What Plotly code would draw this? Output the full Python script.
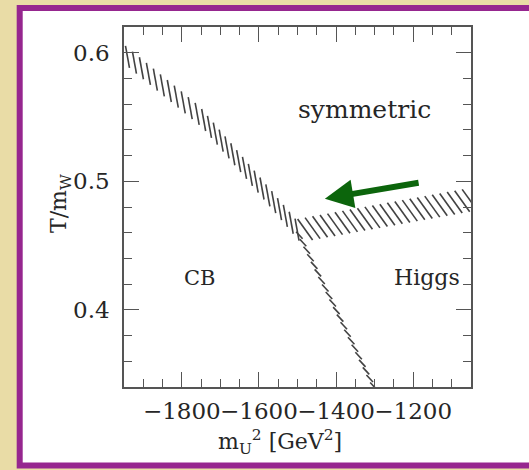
import numpy as np
import plotly.graph_objects as go

# Axis extents
x_range = [-1950, -1050]
y_range = [0.34, 0.62]

# Phase boundaries: centre lines of the hatched bands
cb_sym_x = [-1950, -1750, -1500]
cb_sym_y = [0.599, 0.550, 0.462]
cb_higgs_x = [-1500, -1292]
cb_higgs_y = [0.461, 0.334]
higgs_sym_x = [-1490, -1045]
higgs_sym_y = [0.462, 0.486]

# Arrow (tail -> head)
arrow_x = [-1182, -1429]
arrow_y = [0.499, 0.4865]

# Region labels
region_text = ["symmetric", "CB", "Higgs"]
region_x = [-1325, -1753, -1164]
region_y = [0.556, 0.425, 0.425]

W, H = 529, 470
margin = dict(l=124, r=58, t=27, b=83)
plot_w = W - margin["l"] - margin["r"]
plot_h = H - margin["t"] - margin["b"]
sx = plot_w / (x_range[1] - x_range[0])
sy = plot_h / (y_range[1] - y_range[0])


def hatch(xs, ys, step, stroke):
    """Short strokes placed every `step` screen px along a polyline."""
    X = np.asarray(xs, float) * sx
    Y = -np.asarray(ys, float) * sy
    seg = np.hypot(np.diff(X), np.diff(Y))
    cum = np.concatenate([[0], np.cumsum(seg)])
    s = np.arange(step / 2, cum[-1], step)
    cx = np.interp(s, cum, X)
    cy = np.interp(s, cum, Y)
    dx, dy = stroke
    hx, hy = [], []
    for a, b in zip(cx, cy):
        hx += [float((a - dx / 2) / sx), float((a + dx / 2) / sx), None]
        hy += [float(-(b - dy / 2) / sy), float(-(b + dy / 2) / sy), None]
    return hx, hy


fig = go.Figure()
line_style = dict(color="#424242", width=1.6, simplify=False)
for xs, ys, step, stroke in [
    (cb_sym_x, cb_sym_y, 9.0, (4, 22)),
    (cb_higgs_x, cb_higgs_y, 8.4, (6.5, 7)),
    (higgs_sym_x, higgs_sym_y, 7.6, (15, 21)),
]:
    hx, hy = hatch(xs, ys, step, stroke)
    fig.add_trace(go.Scatter(x=hx, y=hy, mode="lines", line=line_style,
                             connectgaps=False, hoverinfo="skip", showlegend=False))

fig.add_annotation(x=arrow_x[1], y=arrow_y[1], ax=arrow_x[0], ay=arrow_y[0],
                   xref="x", yref="y", axref="x", ayref="y", text="",
                   showarrow=True, arrowhead=2, arrowsize=0.95, arrowwidth=6,
                   arrowcolor="#0c650c")

serif = "DejaVu Serif"
for t, x, y, fs in zip(region_text, region_x, region_y, [25, 21, 22]):
    fig.add_annotation(x=x, y=y, xref="x", yref="y", text=t, showarrow=False,
                       font=dict(family=serif, size=fs, color="#262626"))


def px_x(p):
    return (p - margin["l"]) / plot_w


def px_y(p):
    return (H - margin["b"] - p) / plot_h


# Axis titles
fig.add_annotation(x=px_x(280), y=px_y(442), xref="paper", yref="paper",
                   xanchor="center", yanchor="middle",
                   text="m<sub>U</sub><sup>2</sup> [GeV<sup>2</sup>]", showarrow=False,
                   font=dict(family=serif, size=22, color="#262626"))
fig.add_annotation(x=px_x(60), y=px_y(204), xref="paper", yref="paper",
                   xanchor="center", yanchor="middle", text="T/m<sub>W</sub>",
                   textangle=-90, showarrow=False,
                   font=dict(family=serif, size=22, color="#262626"))

# Slide frame: beige page, purple border, white panel
fig.add_shape(type="rect", xref="paper", yref="paper", layer="below",
              x0=px_x(19.7), x1=px_x(540), y0=px_y(8), y1=px_y(465.5),
              line=dict(color="#96268f", width=6), fillcolor="white")

axis_common = dict(showgrid=False, zeroline=False, showline=True, linecolor="#555",
                   linewidth=1.5, mirror="allticks", ticks="inside", ticklen=15,
                   tickwidth=1.4, tickcolor="#555", tickangle=0,
                   tickfont=dict(family=serif, size=23, color="#262626"))

fig.update_xaxes(range=x_range, tickmode="linear", tick0=-1800, dtick=200,
                 ticklabelstandoff=3,
                 minor=dict(dtick=50, tick0=-1800, ticks="inside", ticklen=8,
                            tickwidth=1.4, tickcolor="#555"),
                 **axis_common)
fig.update_yaxes(range=y_range, tickmode="linear", tick0=0.4, dtick=0.1,
                 tickformat=".1f", ticklabelstandoff=8,
                 minor=dict(dtick=0.02, tick0=0.4, ticks="inside", ticklen=8,
                            tickwidth=1.4, tickcolor="#555"),
                 **axis_common)

fig.update_layout(width=W, height=H, margin=margin, paper_bgcolor="#e9dca6",
                  plot_bgcolor="white", showlegend=False)

fig.write_html("out.html")
